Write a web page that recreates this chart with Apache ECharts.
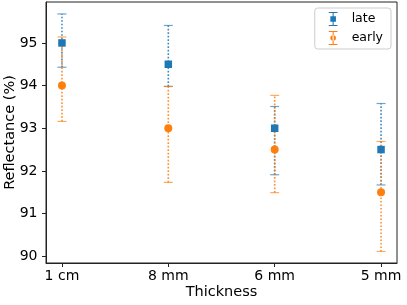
<!DOCTYPE html>
<html>
<head>
<meta charset="utf-8">
<script src="https://cdn.jsdelivr.net/npm/echarts@6/dist/echarts.min.js"></script>
<style>html,body{margin:0;padding:0;background:#fff}#c{width:407px;height:305px}</style>
</head>
<body>
<div id="c"></div>
<script>
const categories = ['1 cm', '8 mm', '6 mm', '5 mm'];
const lateValues = [95, 94.5, 93, 92.5];
const lateLow = [94.43, 93.98, 91.91, 91.67];
const lateHigh = [95.68, 95.41, 93.51, 93.58];
const earlyValues = [94, 93, 92.5, 91.5];
const earlyLow = [93.16, 91.73, 91.49, 90.11];
const earlyHigh = [95.14, 93.98, 93.77, 92.69];
const yTicks = [90, 91, 92, 93, 94, 95];
const xTicks = [0, 1, 2, 3];

const BLUE = '#1f77b4', ORANGE = '#ff7f0e';
const FONT = 'DejaVu Sans';

function errRender(color) {
  return function (params, api) {
    const x = api.value(0), lo = api.value(1), hi = api.value(2);
    const a = api.coord([x, lo]), b = api.coord([x, hi]);
    const hw = 4.5;
    const capStyle = { stroke: color, lineWidth: 1.2, opacity: 0.65 };
    return {
      type: 'group',
      children: [
        { type: 'line', shape: { x1: a[0], y1: a[1], x2: b[0], y2: b[1] },
          style: { stroke: color, lineWidth: 1.6, lineDash: [1.6, 1.9], opacity: 0.85 } },
        { type: 'line', shape: { x1: a[0] - hw, y1: a[1], x2: a[0] + hw, y2: a[1] }, style: capStyle },
        { type: 'line', shape: { x1: b[0] - hw, y1: b[1], x2: b[0] + hw, y2: b[1] }, style: capStyle }
      ]
    };
  };
}

const lateIcon = 'path://M0,0H10V1.2H0Z M4.4,0H5.6V16H4.4Z M1.8,4.8H8.2V11.2H1.8Z M0,14.8H10V16H0Z';
const earlyIcon = 'path://M0,0H10V1.2H0Z M4.4,0H5.6V16H4.4Z M1.8,8A3.2,3.2 0 1,0 8.2,8A3.2,3.2 0 1,0 1.8,8Z M0,14.8H10V16H0Z';

const chart = echarts.init(document.getElementById('c'), null, { renderer: 'canvas' });
chart.setOption({
  animation: false,
  textStyle: { fontFamily: FONT },
  grid: { left: 46, right: 10, top: 2, bottom: 42, show: true, borderColor: '#222', borderWidth: 1,
    containLabel: false, outerBoundsMode: 'none' },
  legend: {
    orient: 'vertical', right: 16, top: 8,
    data: [{ name: 'late', icon: lateIcon }, { name: 'early', icon: earlyIcon }],
    itemWidth: 9, itemHeight: 14, itemGap: 5,
    padding: [4, 8, 4, 14],
    borderColor: '#ccc', borderWidth: 1, borderRadius: 3,
    textStyle: { fontFamily: FONT, fontSize: 12.5, color: '#000', padding: [0, 0, 0, 9] }
  },
  xAxis: {
    type: 'value', min: -0.15, max: 3.15,
    name: 'Thickness', nameLocation: 'middle', nameGap: 22, nameMoveOverlap: false,
    nameTextStyle: { fontFamily: FONT, fontSize: 14.5, color: '#000' },
    axisLine: { show: true, onZero: false, lineStyle: { color: '#222', width: 1 } },
    splitLine: { show: false },
    axisTick: { show: true, customValues: xTicks, length: 4, lineStyle: { color: '#222', width: 1 } },
    axisLabel: { customValues: xTicks, fontFamily: FONT, fontSize: 14, color: '#000', margin: 6,
      formatter: v => categories[Math.round(v)] }
  },
  yAxis: {
    type: 'value', min: 89.84, max: 95.96,
    name: 'Reflectance (%)', nameLocation: 'middle', nameGap: 28, nameMoveOverlap: false,
    nameTextStyle: { fontFamily: FONT, fontSize: 14.5, color: '#000' },
    axisLine: { show: true, onZero: false, lineStyle: { color: '#222', width: 1 } },
    splitLine: { show: false },
    axisTick: { show: true, customValues: yTicks, length: 4, lineStyle: { color: '#222', width: 1 } },
    axisLabel: { customValues: yTicks, fontFamily: FONT, fontSize: 14, color: '#000', margin: 8.5 }
  },
  series: [
    { name: 'late_err', type: 'custom', renderItem: errRender(BLUE), z: 2,
      encode: { x: 0, y: [1, 2] },
      data: categories.map((c, i) => [i, lateLow[i], lateHigh[i]]) },
    { name: 'early_err', type: 'custom', renderItem: errRender(ORANGE), z: 3,
      encode: { x: 0, y: [1, 2] },
      data: categories.map((c, i) => [i, earlyLow[i], earlyHigh[i]]) },
    { name: 'late', type: 'scatter', symbol: 'rect', symbolSize: 7.5, z: 5,
      itemStyle: { color: BLUE, opacity: 1 },
      data: categories.map((c, i) => [i, lateValues[i]]) },
    { name: 'early', type: 'scatter', symbol: 'circle', symbolSize: 8, z: 6,
      itemStyle: { color: ORANGE, opacity: 1 },
      data: categories.map((c, i) => [i, earlyValues[i]]) }
  ]
});
</script>
</body>
</html>
